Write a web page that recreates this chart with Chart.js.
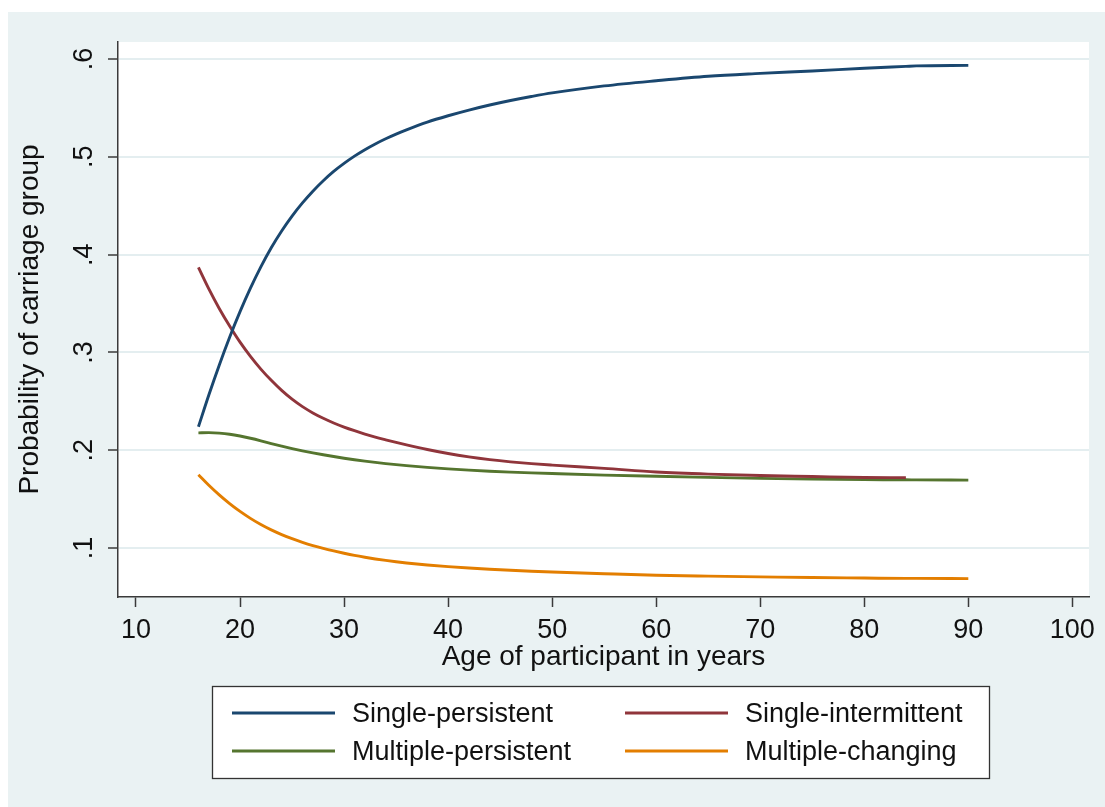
<!DOCTYPE html>
<html>
<head>
<meta charset="utf-8">
<script src="https://cdn.jsdelivr.net/npm/chart.js@4/dist/chart.umd.min.js"></script>
<style>
  html, body { margin: 0; padding: 0; background: #ffffff; }
  #wrap { position: absolute; left: 8px; top: 12px; width: 1097px; height: 795px; background: #eaf2f3; }
  canvas { display: block; }
</style>
</head>
<body>
<div id="wrap"><canvas id="chart" width="1097" height="795"></canvas></div>
<script>
// Age of participant (years)
const ages = [16, 17, 18, 19, 20, 21, 22, 23, 24, 25, 26, 27, 28, 29, 30, 31, 32, 33, 34, 35, 36,
              38, 40, 42, 44, 46, 48, 50, 55, 60, 65, 70, 75, 80, 84, 85, 90];

// Predicted probability of each carriage group
const singlePersistent = [0.224, 0.2565, 0.287, 0.3155, 0.3417, 0.3657, 0.3875, 0.407, 0.4242, 0.4394, 0.4529,
                          0.4649, 0.4756, 0.4851, 0.4933, 0.5007, 0.5073, 0.5132, 0.5185, 0.5233, 0.5276,
                          0.5355, 0.5420, 0.5478, 0.5530, 0.5576, 0.5617, 0.5654,
                          0.5725, 0.5778, 0.5824, 0.5853, 0.5878, 0.5905, 0.5925, 0.593, 0.5935];
const singleIntermittent = [0.387, 0.365, 0.345, 0.327, 0.3105, 0.296, 0.283, 0.2715, 0.2612, 0.2522, 0.2446,
                            0.2382, 0.2327, 0.2279, 0.2237, 0.2200, 0.2166, 0.2135, 0.2107, 0.2080, 0.2055,
                            0.2008, 0.1967, 0.1933, 0.1905, 0.1882, 0.1863, 0.1848,
                            0.1815, 0.1778, 0.1756, 0.1742, 0.1732, 0.1722, 0.172, null, null];
const multiplePersistent = [0.2178, 0.2180, 0.2175, 0.2164, 0.2146, 0.2123, 0.2097, 0.2069, 0.2042, 0.2017, 0.1994,
                            0.1973, 0.1954, 0.1936, 0.1919, 0.1903, 0.1889, 0.1876, 0.1864, 0.1853, 0.1843,
                            0.1825, 0.1810, 0.1797, 0.1786, 0.1777, 0.1769, 0.1762,
                            0.1746, 0.1734, 0.1723, 0.1713, 0.1705, 0.1700, 0.1698, 0.1697, 0.1695];
const multipleChanging = [0.175, 0.1642, 0.1544, 0.1455, 0.1375, 0.1304, 0.1241, 0.1186, 0.1138, 0.1096, 0.1059,
                          0.1026, 0.0997, 0.0971, 0.0947, 0.0925, 0.0906, 0.0889, 0.0874, 0.0860, 0.0848,
                          0.0827, 0.0810, 0.0796, 0.0784, 0.0773, 0.0764, 0.0756,
                          0.0738, 0.0722, 0.0713, 0.0706, 0.0699, 0.0694, 0.069, 0.069, 0.0688];

const seriesNames = ['Single-persistent', 'Single-intermittent', 'Multiple-persistent', 'Multiple-changing'];
const seriesColors = ['#1a476f', '#90353b', '#55752f', '#e37e00'];

const xTickValues = [10, 20, 30, 40, 50, 60, 70, 80, 90, 100];
const yTickValues = [0.1, 0.2, 0.3, 0.4, 0.5, 0.6];
const yTickLabels = ['.1', '.2', '.3', '.4', '.5', '.6'];

const FONT = '"Liberation Sans", Arial, sans-serif';
const INK = '#111111';
const AXIS = '#3a3a3a';

function toPoints(vals) {
  return ages.map((a, i) => ({ x: a, y: vals[i] }));
}

const allSeries = [singlePersistent, singleIntermittent, multiplePersistent, multipleChanging];

// White plot region on the tinted graph background
const plotBackground = {
  id: 'plotBackground',
  beforeDraw(chart) {
    const { ctx, chartArea: a } = chart;
    ctx.save();
    ctx.fillStyle = '#ffffff';
    ctx.fillRect(a.left, a.top, a.right - a.left, a.bottom - a.top);
    ctx.restore();
  }
};

// Boxed two-column legend under the x-axis title
const boxedLegend = {
  id: 'boxedLegend',
  afterDraw(chart) {
    const { ctx } = chart;
    const box = { left: 204, top: 674, right: 981, bottom: 766 };
    ctx.save();
    ctx.fillStyle = '#ffffff';
    ctx.fillRect(box.left, box.top, box.right - box.left, box.bottom - box.top);
    ctx.strokeStyle = '#333333';
    ctx.lineWidth = 1.3;
    ctx.strokeRect(box.left + 0.5, box.top + 0.5, box.right - box.left, box.bottom - box.top);
    const cols = [{ line: 224, text: 344 }, { line: 617, text: 737 }];
    const rows = [701, 739];
    ctx.font = '27px ' + FONT;
    ctx.textBaseline = 'middle';
    ctx.textAlign = 'left';
    chart.data.datasets.forEach((ds, i) => {
      const c = cols[i % 2];
      const y = rows[Math.floor(i / 2)];
      ctx.strokeStyle = ds.borderColor;
      ctx.lineWidth = 3;
      ctx.beginPath();
      ctx.moveTo(c.line, y);
      ctx.lineTo(c.line + 103, y);
      ctx.stroke();
      ctx.fillStyle = INK;
      ctx.fillText(ds.label, c.text, y + 1.5);
    });
    ctx.restore();
  }
};

new Chart(document.getElementById('chart'), {
  type: 'line',
  data: {
    datasets: seriesNames.map((name, i) => ({
      label: name,
      data: toPoints(allSeries[i]),
      borderColor: seriesColors[i],
      backgroundColor: seriesColors[i],
      borderWidth: 2.9,
      pointRadius: 0,
      fill: false,
      cubicInterpolationMode: 'monotone'
    }))
  },
  options: {
    responsive: false,
    animation: false,
    layout: { padding: { left: 0, top: 30, right: 16, bottom: 130 } },
    plugins: {
      legend: { display: false },
      tooltip: { enabled: false }
    },
    scales: {
      x: {
        type: 'linear',
        min: 8.27,
        max: 101.6,
        afterBuildTicks(scale) { scale.ticks = xTickValues.map(v => ({ value: v })); },
        afterFit(scale) { scale.height = 80; },
        border: { color: AXIS, width: 1.5 },
        grid: { drawOnChartArea: false, drawTicks: true, tickLength: 10, tickColor: AXIS, tickWidth: 1.5 },
        ticks: {
          color: INK,
          font: { family: FONT, size: 27 },
          padding: 7,
          maxRotation: 0,
          minRotation: 0,
          autoSkip: false
        },
        title: {
          display: true,
          text: 'Age of participant in years',
          color: INK,
          font: { family: FONT, size: 28 },
          padding: { top: 0, bottom: 3 }
        }
      },
      y: {
        type: 'linear',
        min: 0.05,
        max: 0.6174,
        afterBuildTicks(scale) { scale.ticks = yTickValues.map(v => ({ value: v })); },
        afterFit(scale) { scale.width = 110; },
        border: { color: AXIS, width: 1.5 },
        grid: { color: '#e4eef0', lineWidth: 2, drawTicks: true, tickLength: 10, tickColor: AXIS, tickWidth: 1.5 },
        ticks: {
          color: INK,
          font: { family: FONT, size: 27 },
          padding: 12,
          minRotation: 90,
          maxRotation: 90,
          crossAlign: 'center',
          autoSkip: false,
          callback: (value, index) => yTickLabels[index]
        },
        title: {
          display: true,
          text: 'Probability of carriage group',
          color: INK,
          font: { family: FONT, size: 28 },
          padding: { top: 5, bottom: 0 }
        }
      }
    }
  },
  plugins: [plotBackground, boxedLegend]
});
</script>
</body>
</html>
